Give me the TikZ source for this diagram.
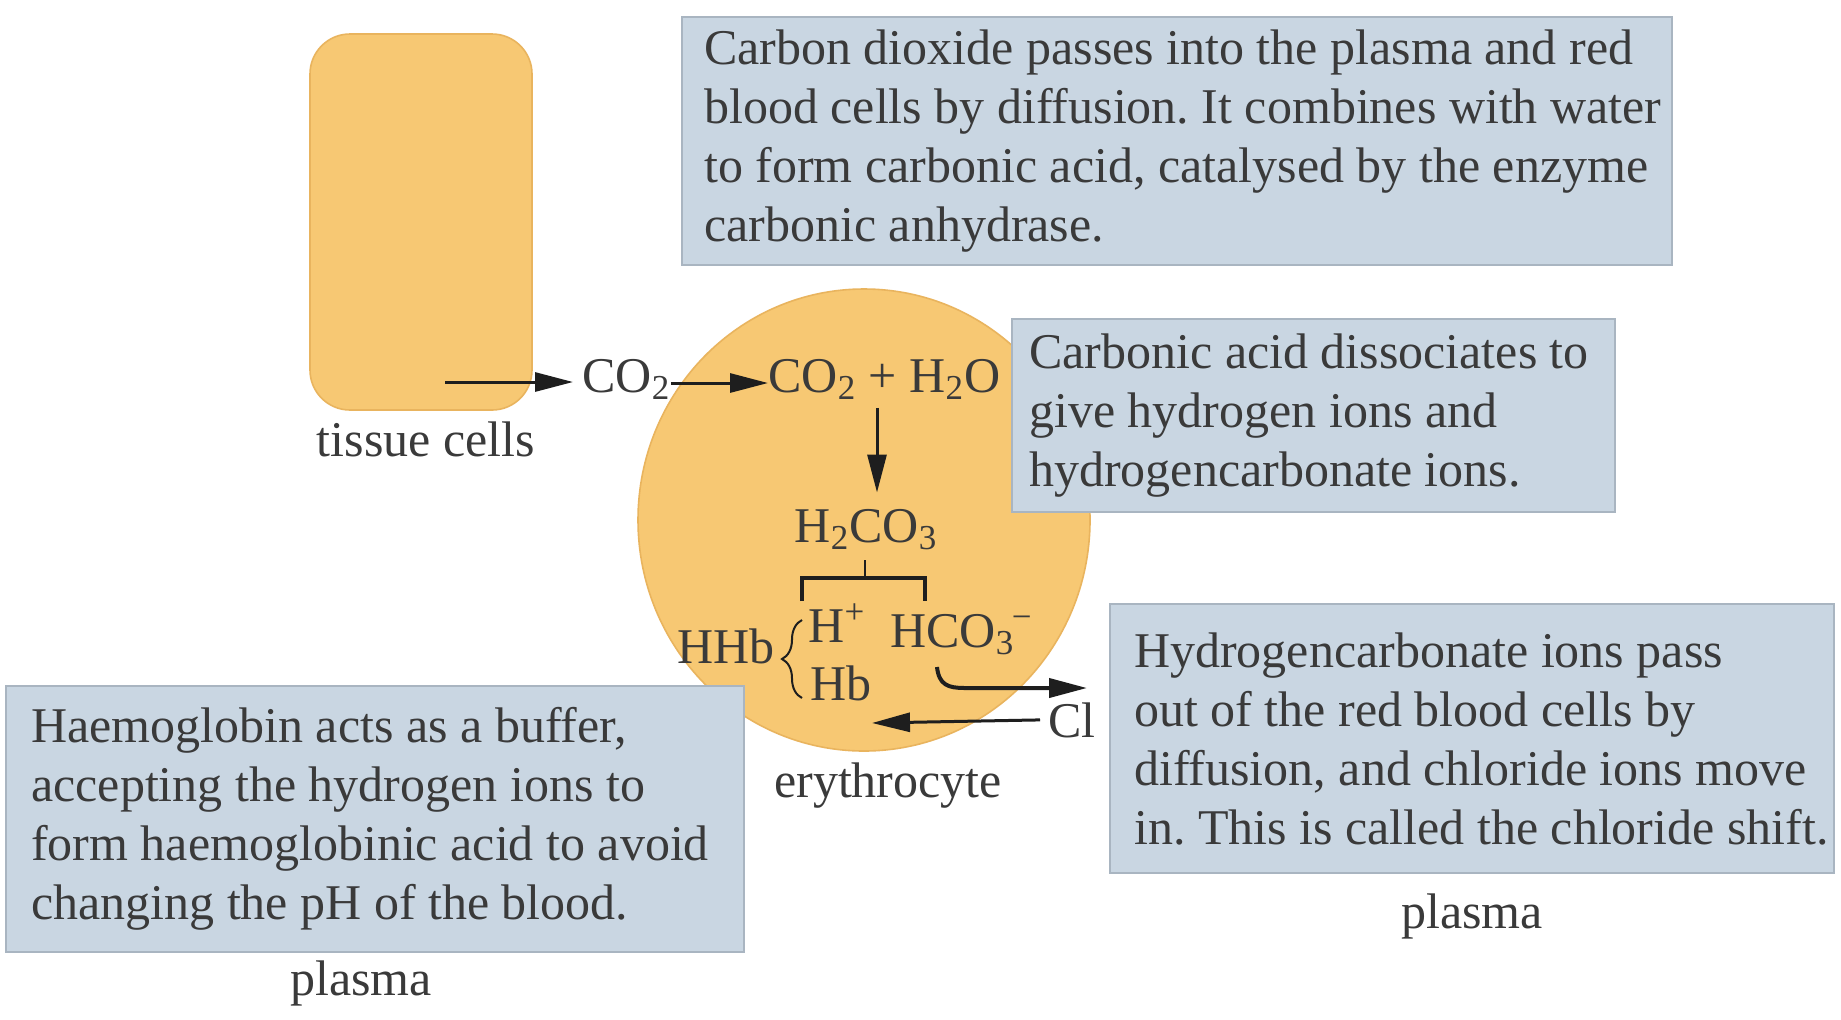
\documentclass[tikz,border=0pt]{standalone}
\usepackage{fontspec}
\setmainfont{Liberation Serif}
\usetikzlibrary{arrows.meta,decorations.pathreplacing,shapes.geometric}
\definecolor{cellfill}{HTML}{F7C873}
\definecolor{celldraw}{HTML}{E9B45E}
\definecolor{boxfill}{HTML}{C9D6E2}
\definecolor{boxdraw}{HTML}{A9B5C1}
\definecolor{txt}{HTML}{3A3A3A}
\definecolor{ink}{HTML}{1E1E1E}
\frenchspacing
\begin{document}
\begin{tikzpicture}[x=0.5pt,y=-0.5pt,
  tissuebox/.style={draw=celldraw, line width=0.8pt, fill=cellfill, rounded corners=20pt, inner sep=0pt},
  cellbody/.style={ellipse, draw=celldraw, line width=0.8pt, fill=cellfill, inner sep=0pt},
  infobox/.style={draw=boxdraw, line width=1.2pt, fill=boxfill, inner sep=0pt},
  boxtext/.style={anchor=west, align=left, inner sep=0pt, text=txt, font=\frenchspacing\fontsize{25}{29.5}\selectfont},
  lbl/.style={anchor=base, inner sep=0pt, text=txt, font=\fontsize{25}{30}\selectfont},
  chem/.style={anchor=base west, inner sep=0pt, text=txt, font=\fontsize{25}{30}\selectfont},
  arr/.style={draw=ink, line width=1.5pt, -{Triangle[length=19pt,width=9.5pt]}},
  bracketline/.style={draw=ink, line width=2pt}]
\useasboundingbox (0,0) rectangle (1841,1019);
\fill[white] (0,0) rectangle (1841,1019);

% cells
\node[tissuebox, minimum width=111pt, minimum height=188pt] (tissue) at (421,222) {};
\node[cellbody, minimum width=226pt, minimum height=231pt] (ery) at (864,520) {};

% info boxes
\node[infobox, minimum width=495pt, minimum height=124pt] (b1) at (1177,141) {};
\node[infobox, minimum width=301.5pt, minimum height=96.5pt] (b2) at (1313.5,415.5) {};
\node[infobox, minimum width=362pt, minimum height=134.5pt] (b3) at (1472,738.5) {};
\node[infobox, minimum width=369pt, minimum height=133pt] (b4) at (375,819) {};

\node[boxtext] (t1) at ([xshift=11.5pt]b1.west) {Carbon dioxide passes into the plasma and red\\blood cells by diffusion. It combines with water\\to form carbonic acid, catalysed by the enzyme\\carbonic anhydrase.};
\node[boxtext] (t2) at ([xshift=9pt]b2.west) {Carbonic acid dissociates to\\give hydrogen ions and\\hydrogencarbonate ions.};
\node[boxtext] (t3) at ([xshift=12.5pt]b3.west) {Hydrogencarbonate ions pass\\out of the red blood cells by\\diffusion, and chloride ions move\\in. This is called the chloride shift.};
\node[boxtext] (t4) at ([xshift=13pt]b4.west) {Haemoglobin acts as a buffer,\\accepting the hydrogen ions to\\form haemoglobinic acid to avoid\\changing the pH of the blood.};

% labels
\node[lbl] (tlabel) at (426,456) {tissue cells};
\node[lbl] (elabel) at (888,797) {erythrocyte};
\node[lbl] (plasmaL) at (361,995) {plasma};
\node[lbl] (plasmaR) at (1472,928) {plasma};

% chemistry
\node[chem] (co2a) at (582,392) {CO\textsubscript{2}};
\node[chem] (react) at (768,392) {CO\textsubscript{2} + H\textsubscript{2}O};
\node[chem, anchor=base] (h2co3) at (866,542) {H\textsubscript{2}CO\textsubscript{3}};
\node[chem] (hplus) at (808,642) {H\textsuperscript{+}};
\node[chem] (hco3) at (890,647) {HCO\textsubscript{3}\kern-0.05em\textsuperscript{−}};
\node[chem] (hhb) at (677,663) {HHb};
\node[chem] (hb) at (810,700) {Hb};
\node[chem] (cl) at (1048,737) {Cl};

% arrows
\coordinate (a1s) at (445,382);
\draw[arr] (a1s) -- ([xshift=-4.5pt]co2a.west |- a1s);
\coordinate (a2y) at (0,383);
\draw[arr] (co2a.east |- a2y) -- (react.west |- a2y);
\draw[arr, shorten <=4pt, shorten >=8pt] ([xshift=5.5pt]react.south -| h2co3.north) -- ([xshift=5.5pt]h2co3.north);

% dissociation bracket
\coordinate (bt) at (865,560);
\coordinate (bm) at (865,578);
\draw[draw=ink, line width=1.2pt] (bt) -- (bm);
\draw[bracketline] (802,601) -- (802,578) -- (925,578) -- (925,601);

% brace HHb
\draw[draw=ink, line width=1pt, decorate, decoration={brace, amplitude=10pt}] (802,698) -- (802,620);

% hydrogencarbonate out
\coordinate (hstart) at (937,667);
\coordinate (hout) at (1087,688);
\draw[arr, line width=2pt] (hstart) .. controls (939,685) and (948,688) .. (965,688) -- (hout);

% chloride in
\coordinate (clin) at (872,723);
\draw[arr] ([xshift=-4pt]cl.west) -- (clin);
\end{tikzpicture}
\end{document}
